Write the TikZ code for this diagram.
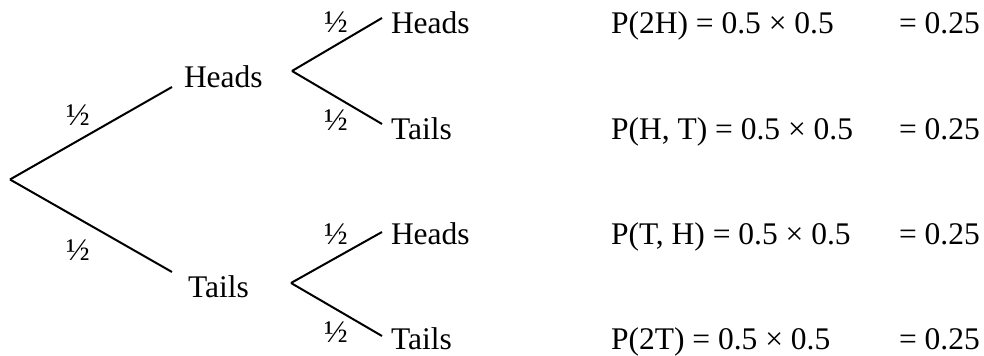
\documentclass[tikz,border=0pt]{standalone}
\usepackage{fontspec}
\setmainfont{Liberation Serif}
\tikzset{lbl/.style={inner sep=0pt,font=\fontsize{15.75pt}{18pt}\selectfont}}
\tikzset{txt/.style={lbl,anchor=base west}}

\begin{document}
\begin{tikzpicture}[x=0.5pt,y=-0.5pt,line width=1pt]
\useasboundingbox (0,0) rectangle (984,356);
% first toss
\coordinate (root) at (10,179.5);
\coordinate (h0) at (172,87);
\coordinate (t0) at (172,272);
\node (h) [txt] at (183,88) {Heads};
\node (t) [txt] at (187,298) {Tails};
\draw (root) -- (h0);
\draw (root) -- (t0);
\node (fh) [lbl] at (78,115) {½};
\node (ft) [lbl] at (78,250) {½};
%
% second toss after heads
\coordinate (hv) at (292,71);
\coordinate (hh0) at (382,18);
\coordinate (ht0) at (382,124);
\node (hh) [txt] at (390,34) {Heads};
\node (ht) [txt] at (390,140) {Tails};
\draw (hv) -- (hh0);
\draw (hv) -- (ht0);
\node (fhh) [lbl] at (336,22) {½};
\node (fht) [lbl] at (336,120) {½};
%
% second toss after tails
\coordinate (tv) at (291,283);
\coordinate (th0) at (382,232);
\coordinate (tt0) at (382,336);
\node (th) [txt] at (390,245) {Heads};
\node (tt) [txt] at (390,350) {Tails};
\draw (tv) -- (th0);
\draw (tv) -- (tt0);
\node (fth) [lbl] at (336,234) {½};
\node (ftt) [lbl] at (336,332) {½};
%
% outcomes
\node (p1) [txt] at (610,34) {P(2H) = 0.5 × 0.5};
\node (p2) [txt] at (610,140) {P(H, T) = 0.5 × 0.5};
\node (p3) [txt] at (610,245) {P(T, H) = 0.5 × 0.5};
\node (p4) [txt] at (610,350) {P(2T) = 0.5 × 0.5};
\node (r1) [txt] at (898,34) {= 0.25};
\node (r2) [txt] at (898,140) {= 0.25};
\node (r3) [txt] at (898,245) {= 0.25};
\node (r4) [txt] at (898,350) {= 0.25};
\end{tikzpicture}
\end{document}
